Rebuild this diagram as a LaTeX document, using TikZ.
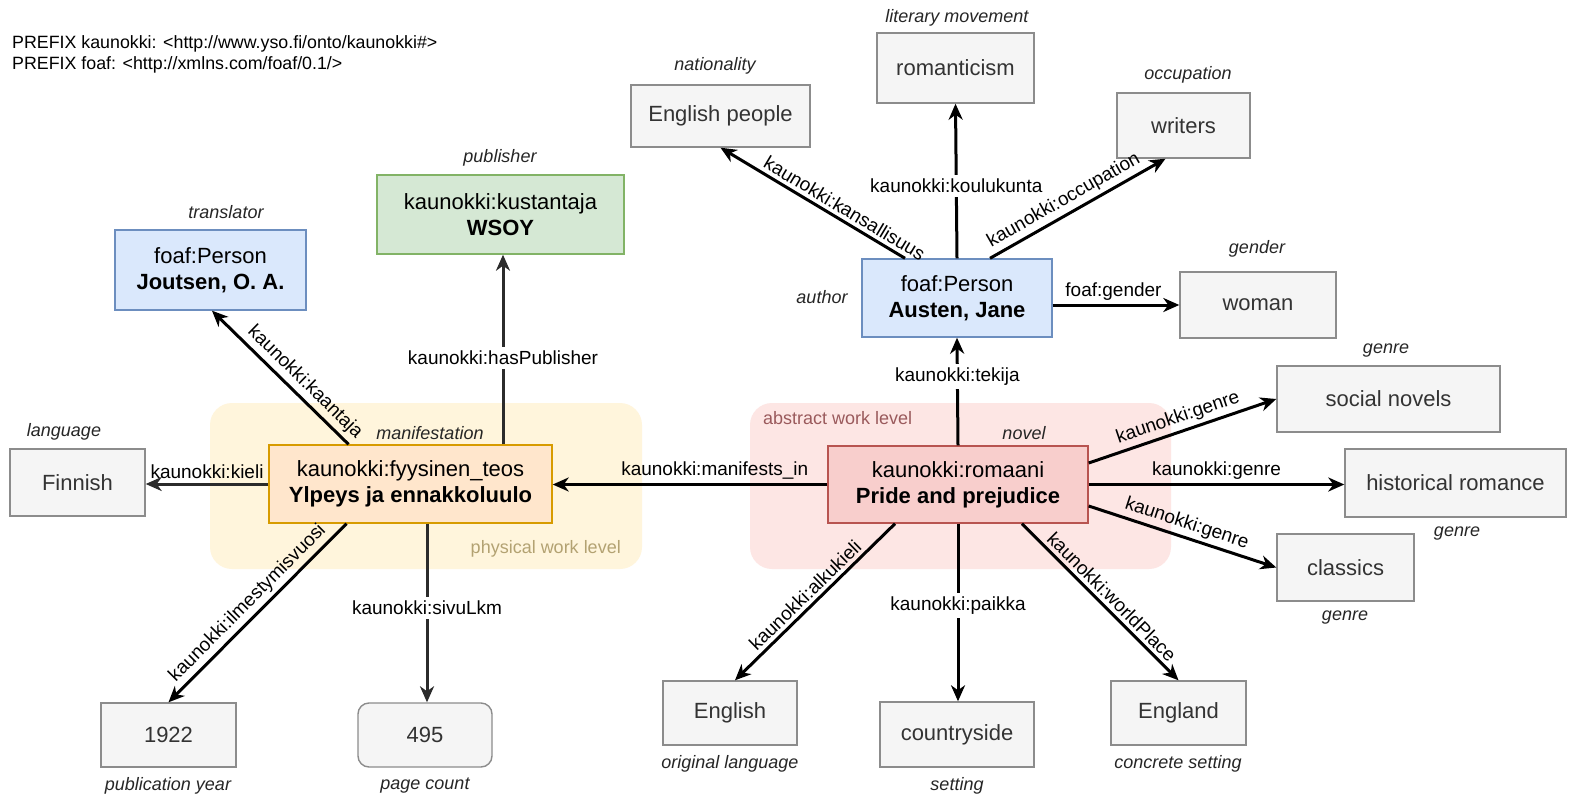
\documentclass[tikz,border=0pt]{standalone}
\usepackage{fontspec}
\setmainfont{Liberation Sans}
\usetikzlibrary{arrows.meta,calc}
\definecolor{gfill}{HTML}{F5F5F5}
\definecolor{gdraw}{HTML}{8C8C8C}
\definecolor{gtext}{HTML}{333333}
\definecolor{bfill}{HTML}{DAE8FC}
\definecolor{bdraw}{HTML}{6C8EBF}
\definecolor{rfill}{HTML}{F8CECC}
\definecolor{rdraw}{HTML}{B85450}
\definecolor{ofill}{HTML}{FFE6CC}
\definecolor{odraw}{HTML}{D79B00}
\definecolor{grfill}{HTML}{D5E8D4}
\definecolor{grdraw}{HTML}{82B366}
\definecolor{absfill}{HTML}{FDE6E4}
\definecolor{physfill}{HTML}{FFF5DC}
\definecolor{abstext}{HTML}{9A5A5C}
\definecolor{phystext}{HTML}{B3A272}
\definecolor{darkline}{HTML}{2B2B2B}
\tikzset{
  box/.style={draw=gdraw, fill=gfill, text=gtext, line width=1.4pt, inner sep=0pt,
    font=\fontsize{22}{26}\selectfont, align=center},
  bluebox/.style={box, draw=bdraw, fill=bfill, text=black},
  redbox/.style={box, draw=rdraw, fill=rfill, text=black},
  orangebox/.style={box, draw=odraw, fill=ofill, text=black},
  greenbox/.style={box, draw=grdraw, fill=grfill, text=black},
  role/.style={font=\fontsize{18}{21}\selectfont\itshape, text=black!85, inner sep=0pt},
  elabel/.style={font=\fontsize{19}{22}\selectfont, text=black, inner sep=3.5pt},
  wlabel/.style={elabel, fill=white, inner sep=4pt},
  arr/.style={line width=3pt, -{Stealth[length=16pt, width=14pt, inset=5pt]}},
  grp/.style={rounded corners=22pt, draw=none},
}
\begin{document}
\begin{tikzpicture}[x=1pt, y=-1pt]
\fill[white] (0,0) rectangle (1572,798);
\useasboundingbox (0,0) rectangle (1572,798);

% groups
\node[grp, fill=physfill, minimum width=432pt, minimum height=166pt] (physgrp) at (426,486) {};
\node[grp, fill=absfill, minimum width=421pt, minimum height=166pt] (absgrp) at (960.5,486) {};
\node[font=\fontsize{18}{21}\selectfont, text=abstext, anchor=west, inner sep=0pt] (abslbl) at (763,418) {abstract work level};
\node[font=\fontsize{18}{21}\selectfont, text=phystext, anchor=east, inner sep=0pt] (physlbl) at (621,549) {physical work level};

% prefix
\node[font=\fontsize{17.8}{21}\selectfont, anchor=base west, inner sep=0pt] (pre1) at (12,48) {PREFIX kaunokki: <http://www.yso.fi/onto/kaunokki\#>};
\node[font=\fontsize{17.8}{21}\selectfont, anchor=base west, inner sep=0pt] (pre2) at (12,69) {PREFIX foaf: <http://xmlns.com/foaf/0.1/>};

% nodes
\node[box, minimum width=179pt, minimum height=62pt] (engpeople) at (720.5,116) {English people};
\node[box, minimum width=157pt, minimum height=70pt] (romanticism) at (955.5,68) {romanticism};
\node[box, minimum width=133pt, minimum height=65pt] (writers) at (1183.5,125.5) {writers};
\node[bluebox, minimum width=190pt, minimum height=78pt] (austen) at (957,298) {foaf:Person\\\textbf{Austen, Jane}};
\node[box, minimum width=156pt, minimum height=66pt] (woman) at (1258,305) {woman};
\node[box, minimum width=223pt, minimum height=66pt] (social) at (1388.5,399) {social novels};
\node[box, minimum width=221pt, minimum height=68pt] (hist) at (1455.5,483) {historical romance};
\node[box, minimum width=137pt, minimum height=67pt] (classics) at (1345.5,567.5) {classics};
\node[redbox, minimum width=260pt, minimum height=77pt] (romaani) at (958,484.5) {kaunokki:romaani\\\textbf{Pride and prejudice}};
\node[box, minimum width=134pt, minimum height=64pt] (english) at (730,713) {English};
\node[box, minimum width=154pt, minimum height=65pt] (countryside) at (957,734.5) {countryside};
\node[box, minimum width=135pt, minimum height=64pt] (england) at (1178.5,713) {England};
\node[orangebox, minimum width=283pt, minimum height=78pt] (fyys) at (410.5,484) {kaunokki:fyysinen\_teos\\\textbf{Ylpeys ja ennakkoluulo}};
\node[box, minimum width=135pt, minimum height=67pt] (finnish) at (77.5,482.5) {Finnish};
\node[box, minimum width=135pt, minimum height=64pt] (n1922) at (168.5,735) {1922};
\node[box, rounded corners=11pt, minimum width=134pt, minimum height=64pt] (p495) at (425,735) {495};
\node[bluebox, minimum width=191pt, minimum height=80pt] (joutsen) at (210.5,270) {foaf:Person\\\textbf{Joutsen, O. A.}};
\node[greenbox, minimum width=247pt, minimum height=79pt] (wsoy) at (500.5,214.5) {kaunokki:kustantaja\\\textbf{WSOY}};

% role labels
\node[role] (rnat) at (715,66) {nationality};
\node[role] (rlit) at (957,18) {literary movement};
\node[role] (rocc) at (1188,75) {occupation};
\node[role] (rgen) at (1257,249) {gender};
\node[role] (rauth) at (822,297) {author};
\node[role] (rgenre1) at (1386,351) {genre};
\node[role] (rgenre2) at (1457,534) {genre};
\node[role] (rgenre3) at (1345,618) {genre};
\node[role] (rnovel) at (1024,433) {novel};
\node[role] (rorig) at (730,764) {original language};
\node[role] (rset) at (957,786) {setting};
\node[role] (rconc) at (1178,764) {concrete setting};
\node[role] (rman) at (430,433) {manifestation};
\node[role] (rlang) at (64,432) {language};
\node[role] (rtrans) at (226,212) {translator};
\node[role] (rpub) at (500,158) {publisher};
\node[role] (rpy) at (168,786) {publication year};
\node[role] (rpc) at (425,786) {page count};

% edges from Austen
\draw[arr] (romaani.north) -- node[wlabel, pos=0.64] (ltek) {kaunokki:tekija} (austen.south);
\draw[arr] (austen.north) -- node[wlabel, pos=0.47] (lkoul) {kaunokki:koulukunta} (romanticism.south);
\draw[arr] ([xshift=-52pt]austen.north) -- node[elabel, sloped, above, pos=0.36] (lkans) {kaunokki:kansallisuus} (engpeople.south);
\draw[arr] ([xshift=33pt]austen.north) -- node[elabel, sloped, above, pos=0.46] (locc) {kaunokki:occupation} ([xshift=-18pt]writers.south);
\draw[arr] (austen.east |- woman.west) -- node[elabel, above, pos=0.48] (lgend) {foaf:gender} (woman.west);

% edges from romaani
\draw[arr] ([yshift=21.5pt]romaani.east) -- node[elabel, sloped, above, pos=0.5] (lg1) {kaunokki:genre} (social.west);
\draw[arr] (romaani.east) -- node[elabel, above, pos=0.5] (lg2) {kaunokki:genre} (romaani.east -| hist.west);
\draw[arr] ([yshift=-21.5pt]romaani.east) -- node[elabel, sloped, above, pos=0.5] (lg3) {kaunokki:genre} (classics.west);
\draw[arr] (romaani.west) -- node[elabel, above, pos=0.41] (lman) {kaunokki:manifests\_in} (romaani.west -| fyys.east);
\draw[arr] ([xshift=-63pt]romaani.south) -- node[elabel, sloped, above, pos=0.51] (lalku) {kaunokki:alkukieli} ([xshift=5pt]english.north);
\draw[arr] (romaani.south) -- node[wlabel, pos=0.46] (lpaik) {kaunokki:paikka} (romaani.south |- countryside.north);
\draw[arr] ([xshift=64pt]romaani.south) -- node[elabel, sloped, above, pos=0.52] (lworld) {kaunokki:worldPlace} (england.north);

% edges from fyys
\draw[arr, darkline] (fyys.west) -- node[elabel, above, pos=0.5] (lkiel) {kaunokki:kieli} (fyys.west -| finnish.east);
\draw[arr] ([xshift=-62pt]fyys.north) -- node[elabel, sloped, above, pos=0.39] (lkaan) {kaunokki:kaantaja} ([xshift=1.5pt]joutsen.south);
\draw[arr, darkline] ([xshift=2.5pt]wsoy.south |- fyys.north) -- node[wlabel, pos=0.455] (lhasp) {kaunokki:hasPublisher} ([xshift=2.5pt]wsoy.south);
\draw[arr] ([xshift=-64pt]fyys.south) -- node[elabel, sloped, above, pos=0.5] (lilm) {kaunokki:ilmestymisvuosi} (n1922.north);
\draw[arr, darkline] ([xshift=2pt]p495.north |- fyys.south) -- node[wlabel, pos=0.47] (lsivu) {kaunokki:sivuLkm} ([xshift=2pt]p495.north);
\end{tikzpicture}
\end{document}
